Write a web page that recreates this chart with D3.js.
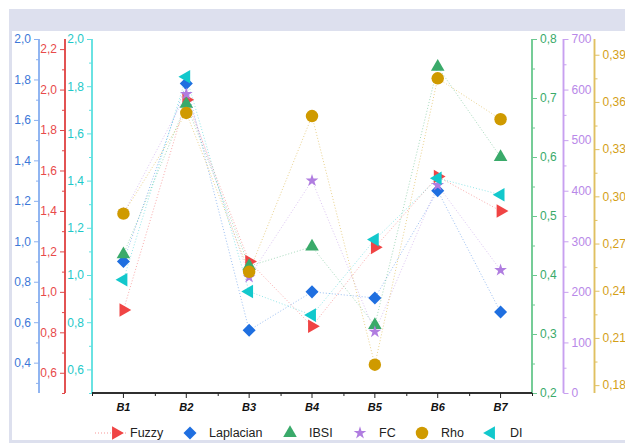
<!DOCTYPE html>
<html>
<head>
<meta charset="utf-8">
<script src="https://cdn.jsdelivr.net/npm/d3@7"></script>
<style>
  body { margin: 0; background: #fff; }
  svg { display: block; font-family: "Liberation Sans", Arial, sans-serif; }
</style>
</head>
<body>
<svg id="chart"></svg>
<script>
const width = 625;
const height = 443;

// categories + series values
const categories = ["B1", "B2", "B3", "B4", "B5", "B6", "B7"];
const fuzzy     = [0.91, 1.95, 1.15, 0.83, 1.22, 1.57, 1.40];
const laplacian = [0.90, 1.78, 0.56, 0.75, 0.72, 1.25, 0.65];
const ibsi      = [0.435, 0.69, 0.415, 0.448, 0.315, 0.753, 0.60];
const fc        = [355, 591, 229, 420, 121, 411, 243];
const rho       = [0.289, 0.353, 0.252, 0.351, 0.193, 0.375, 0.349];
const di        = [0.98, 1.84, 0.93, 0.83, 1.15, 1.41, 1.34];

// tick labels for each y axis
const lapTicks  = [0.4, 0.6, 0.8, 1.0, 1.2, 1.4, 1.6, 1.8, 2.0];
const fuzTicks  = [0.6, 0.8, 1.0, 1.2, 1.4, 1.6, 1.8, 2.0, 2.2];
const diTicks   = [0.6, 0.8, 1.0, 1.2, 1.4, 1.6, 1.8, 2.0];
const ibsiTicks = [0.2, 0.3, 0.4, 0.5, 0.6, 0.7, 0.8];
const fcTicks   = [0, 100, 200, 300, 400, 500, 600, 700];
const rhoTicks  = [0.18, 0.21, 0.24, 0.27, 0.30, 0.33, 0.36, 0.39];

const yTop = 39, yBottom = 393;
const xLeft = 92, xRight = 532;

const svg = d3.select("#chart")
  .attr("width", width)
  .attr("height", height);

// frame / header band
svg.append("rect").attr("x", 9).attr("y", 9).attr("width", width - 9).attr("height", height - 9).attr("fill", "#dde0ee");
svg.append("rect").attr("x", 12).attr("y", 31).attr("width", width - 12).attr("height", 409).attr("fill", "#fff");

const x = d3.scaleBand().domain(categories).range([xLeft, xRight]).paddingInner(0).paddingOuter(0);
const xIdx = d3.scaleLinear().domain([0, categories.length]).range([xLeft, xRight]);
const cx = c => x(c) + x.bandwidth() / 2;

const comma = f => v => d3.format(f)(v).replace(".", ",");

// series definitions
const series = [
  { name: "Fuzzy", values: fuzzy, color: "#f04444", axisColor: "#e04848", textColor: "#e84a4a",
    y: d3.scaleLinear().domain([0.5, 2.25]).range([yBottom, yTop]), sym: d3.symbolTriangle, rot: 90, size: 80 },
  { name: "Laplacian", values: laplacian, color: "#1f6fe0", axisColor: "#8ab0f0", textColor: "#3c78d8",
    y: d3.scaleLinear().domain([0.25, 2.0]).range([yBottom, yTop]), sym: d3.symbolSquare, rot: 45, size: 85 },
  { name: "IBSI", values: ibsi, color: "#3aaa6a", axisColor: "#6cc890", textColor: "#3aaa6a",
    y: d3.scaleLinear().domain([0.2, 0.8]).range([yBottom, yTop]), sym: d3.symbolTriangle, rot: 0, size: 80 },
  { name: "FC", values: fc, color: "#b07de0", axisColor: "#c8a0f0", textColor: "#b888e8",
    y: d3.scaleLinear().domain([0, 700]).range([yBottom, yTop]), sym: d3.symbolStar, rot: 0, size: 50 },
  { name: "Rho", values: rho, color: "#cf9a00", axisColor: "#e0c060", textColor: "#d4a017",
    y: d3.scaleLinear().domain([0.175, 0.4]).range([yBottom, yTop]), sym: d3.symbolCircle, rot: 0, size: 122 },
  { name: "DI", values: di, color: "#12c8cc", axisColor: "#60e0e0", textColor: "#1ec8c8",
    y: d3.scaleLinear().domain([0.5, 2.0]).range([yBottom, yTop]), sym: d3.symbolTriangle, rot: -90, size: 80 }
];
const byName = Object.fromEntries(series.map(s => [s.name, s]));

function drawAxis(s, xpos, side, ticks, minor, fmt) {
  const g = svg.append("g").attr("transform", `translate(${xpos},0)`);
  const mk = side === "left" ? d3.axisLeft : d3.axisRight;
  g.append("g").call(mk(s.y).tickValues(minor).tickSize(3).tickFormat(""));
  g.append("g").call(mk(s.y).tickValues(ticks).tickSize(5).tickPadding(3).tickFormat(comma(fmt)));
  g.selectAll("path.domain").attr("stroke", s.axisColor).attr("stroke-width", 1.5)
    .attr("d", `M0,${yTop}V${yBottom}`);
  g.selectAll(".tick line").attr("stroke", s.axisColor);
  g.selectAll(".tick text").attr("fill", s.textColor).attr("font-size", 12)
    .attr("font-family", "Liberation Sans, Arial, sans-serif");
}

drawAxis(byName.Laplacian, 39, "left", lapTicks, [0.3, 0.5, 0.7, 0.9, 1.1, 1.3, 1.5, 1.7, 1.9], ".1f");
drawAxis(byName.Fuzzy, 65, "left", fuzTicks, [0.5, 0.7, 0.9, 1.1, 1.3, 1.5, 1.7, 1.9, 2.1], ".1f");
drawAxis(byName.DI, 92, "left", diTicks, [0.5, 0.7, 0.9, 1.1, 1.3, 1.5, 1.7, 1.9], ".1f");
drawAxis(byName.IBSI, 532, "right", ibsiTicks, [0.25, 0.35, 0.45, 0.55, 0.65, 0.75], ".1f");
drawAxis(byName.FC, 563.5, "right", fcTicks, [50, 150, 250, 350, 450, 550, 650], ".0f");
drawAxis(byName.Rho, 594.5, "right", rhoTicks, [0.195, 0.225, 0.255, 0.285, 0.315, 0.345, 0.375], ".2f");

// x axis
const xg = svg.append("g").attr("transform", `translate(0,${yBottom})`);
xg.append("g").call(d3.axisBottom(xIdx).tickValues(d3.range(categories.length + 1)).tickSize(3).tickFormat(""));
xg.append("g").call(d3.axisBottom(x).tickSize(5).tickPadding(5));
xg.selectAll("path.domain").attr("stroke", "#222").attr("stroke-width", 1.5).attr("d", `M${xLeft},0H${xRight}`);
xg.selectAll(".tick line").attr("stroke", "#222");
xg.selectAll(".tick text").attr("fill", "#111").attr("font-size", 11)
  .attr("font-weight", "bold").attr("font-style", "italic")
  .attr("font-family", "Liberation Sans, Arial, sans-serif");

// dotted lines
series.forEach(s => {
  const line = d3.line().x((d, i) => cx(categories[i])).y(d => s.y(d));
  svg.append("path")
    .datum(s.values)
    .attr("fill", "none")
    .attr("stroke", s.color)
    .attr("stroke-opacity", 0.45)
    .attr("stroke-width", 1)
    .attr("stroke-dasharray", "1,2")
    .attr("d", line);
});

// markers
series.forEach(s => {
  const sym = d3.symbol().type(s.sym).size(s.size);
  svg.append("g").selectAll("path")
    .data(s.values)
    .join("path")
    .attr("d", sym)
    .attr("fill", s.color)
    .attr("transform", (d, i) => `translate(${cx(categories[i])},${s.y(d)}) rotate(${s.rot})`);
});

// legend
const legendX = [116, 190, 290, 360, 422, 491];
const ly = 433;
const lg = svg.append("g");
lg.append("line").attr("x1", 95).attr("x2", 127).attr("y1", ly).attr("y2", ly)
  .attr("stroke", byName.Fuzzy.color).attr("stroke-opacity", 0.55).attr("stroke-dasharray", "1,2");
series.forEach((s, i) => {
  lg.append("path")
    .attr("d", d3.symbol().type(s.sym).size(s.size)())
    .attr("fill", s.color)
    .attr("transform", `translate(${legendX[i]},${ly}) rotate(${s.rot})`);
  lg.append("text")
    .attr("x", legendX[i] + (i === 0 ? 14 : 19))
    .attr("y", ly)
    .attr("dy", "0.35em")
    .attr("font-size", 12.5)
    .attr("fill", "#222")
    .text(s.name);
});
</script>
</body>
</html>
